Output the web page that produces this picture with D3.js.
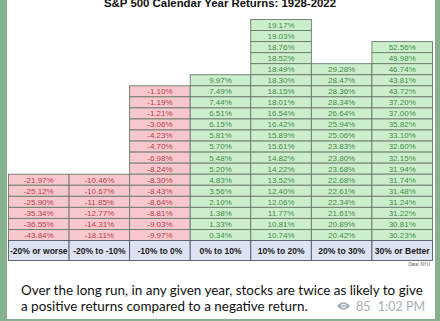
<!DOCTYPE html>
<html><head><meta charset="utf-8">
<script src="https://cdn.jsdelivr.net/npm/d3@7"></script>
<style>html,body{margin:0;padding:0;background:#fff;}svg{display:block;}</style>
</head><body>
<svg id="chart" width="440" height="321"></svg>
<script>
const title = "S&P 500 Calendar Year Returns: 1928-2022";
const categories = ["-20% or worse","-20% to -10%","-10% to 0%","0% to 10%","10% to 20%","20% to 30%","30% or Better"];
// values listed top to bottom as in the picture
const worse20 = [-21.97,-25.12,-25.90,-35.34,-36.55,-43.84];
const neg20to10 = [-10.46,-10.67,-11.85,-12.77,-14.31,-18.11];
const neg10to0 = [-1.10,-1.19,-1.21,-3.06,-4.23,-4.70,-6.98,-8.24,-8.30,-8.43,-8.64,-8.81,-9.03,-9.97];
const pos0to10 = [9.97,7.49,7.44,6.51,6.15,5.81,5.70,5.48,5.20,4.83,3.56,2.10,1.38,1.33,0.34];
const pos10to20 = [19.17,19.03,18.76,18.52,18.49,18.30,18.15,18.01,16.54,16.42,15.89,15.61,14.82,14.22,13.52,12.40,12.06,11.77,10.81,10.74];
const pos20to30 = [29.28,28.47,28.36,28.34,26.64,25.94,25.06,23.83,23.80,23.68,22.68,22.61,22.34,21.61,20.89,20.42];
const better30 = [52.56,49.98,46.74,43.81,43.72,37.20,37.00,35.82,33.10,32.60,32.15,31.94,31.74,31.48,31.24,31.22,30.81,30.23];
const source = "Data: NYU";
const caption = ["Over the long run, in any given year, stocks are twice as likely to give","a positive returns compared to a negative return."];
const views = "85", time = "1:02 PM";

const columns = [worse20,neg20to10,neg10to0,pos0to10,pos10to20,pos20to30,better30];

const svg = d3.select("#chart");
// background (chat wallpaper + message card)
svg.append("rect").attr("width",440).attr("height",321).attr("fill","#86b38e");
svg.append("rect").attr("x",7).attr("y",0).attr("width",428).attr("height",319).attr("fill","#ffffff");

const x = d3.scaleBand().domain(categories).range([8,432]).padding(0);
const maxRows = d3.max(columns, c => c.length);
const y = d3.scaleLinear().domain([0,maxRows]).range([240,19]);

// title
svg.append("text").attr("x",220).attr("y",7).attr("text-anchor","middle")
  .attr("font-family","Liberation Sans, Arial, sans-serif").attr("font-weight","bold")
  .attr("font-size",11.4).attr("fill","#111").text(title);

const cells = [];
columns.forEach((col,ci) => {
  const n = col.length;
  col.forEach((v,i) => cells.push({cat:categories[ci], v, row:n-1-i}));
});

const g = svg.append("g");
g.selectAll("rect.cell").data(cells).join("rect").attr("class","cell")
  .attr("x",d=>x(d.cat)+0.5).attr("y",d=>y(d.row+1)+0.5)
  .attr("width",x.bandwidth()).attr("height",y(0)-y(1))
  .attr("fill",d=>d.v<0?"#f8c8ce":"#cdeecd")
  .attr("stroke","#6a7a6a").attr("stroke-width",0.9);
g.selectAll("text.cell").data(cells).join("text").attr("class","cell")
  .attr("x",d=>x(d.cat)+x.bandwidth()/2+0.5).attr("y",d=>(y(d.row)+y(d.row+1))/2+3.4)
  .attr("text-anchor","middle").attr("font-family","Liberation Sans, Arial, sans-serif")
  .attr("font-size",8).attr("fill",d=>d.v<0?"#b8404a":"#3f8f45")
  .text(d=>d.v.toFixed(2)+"%");

// header row
g.selectAll("rect.hdr").data(categories).join("rect").attr("class","hdr")
  .attr("x",d=>x(d)+0.5).attr("y",240.5).attr("width",x.bandwidth()).attr("height",20)
  .attr("fill","#dde3f4").attr("stroke","#555a66").attr("stroke-width",0.9);
g.selectAll("text.hdr").data(categories).join("text").attr("class","hdr")
  .attr("x",d=>x(d)+x.bandwidth()/2+0.5).attr("y",253.5).attr("text-anchor","middle")
  .attr("font-family","Liberation Sans, Arial, sans-serif").attr("font-weight","bold")
  .attr("font-size",8.5).attr("fill","#1a1a1a").text(d=>d);

svg.append("text").attr("x",430).attr("y",266).attr("text-anchor","end")
  .attr("font-family","Liberation Sans, Arial, sans-serif").attr("font-size",4.5)
  .attr("fill","#555").text(source);

// caption
const cap = svg.append("g").attr("font-family","Lato, Open Sans, sans-serif").attr("fill","#111");
const l1 = cap.append("text").attr("x",21).attr("y",295).attr("font-size",14).text(caption[0]);
const w = l1.node().getComputedTextLength();
const fs = 14*402/w;
l1.attr("font-size",fs);
cap.append("text").attr("x",21).attr("y",311).attr("font-size",fs).text(caption[1]);

// meta: eye, views, time
const meta = svg.append("g").attr("fill","#a6b0ba");
meta.append("path").attr("d","M337,306 Q343.5,298.5 350,306 Q343.5,313.5 337,306 Z");
meta.append("circle").attr("cx",343.5).attr("cy",306).attr("r",2.3).attr("fill","#fff");
meta.append("circle").attr("cx",343.5).attr("cy",306).attr("r",1.3);
meta.append("text").attr("x",356).attr("y",311).attr("font-family","Lato, Open Sans, sans-serif")
  .attr("font-size",12.5).text(views);
meta.append("text").attr("x",425).attr("y",311).attr("text-anchor","end").attr("font-family","Lato, Open Sans, sans-serif")
  .attr("font-size",12.5).text(time);
</script>
</body></html>
